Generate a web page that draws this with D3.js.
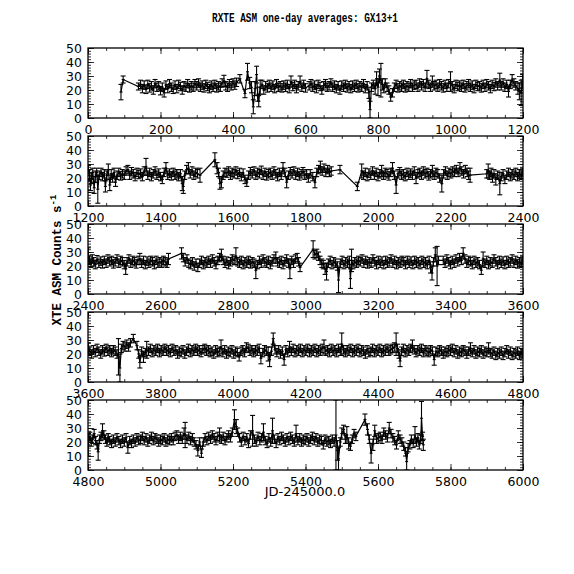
<!DOCTYPE html>
<html>
<head>
<meta charset="utf-8">
<script src="https://cdn.jsdelivr.net/npm/d3@7"></script>
<style>
  body { margin: 0; background: #fff; }
  svg { display: block; }
</style>
</head>
<body>
<div id="chart"></div>
<script>
WIDTH = 574;
HEIGHT = 574;

// ASM one-day averages: [JD-2450000, counts/s, error]
// error left out means the usual ~3 c/s
var panel1 = [
  [91,18.5,5.5],[97,27.5,2.5],
  [139,22.5,2.5],[145,24],[150,21],[155,23.5],[160,20.5],[165,24],[170,21.5],[175,23],[180,20],[185,24.5],[190,22],[195,23],[200,19.5],[205,22],[210,18],[215,23.5],[220,21],[225,24.5],[230,22],[235,20.5],[240,23.5],[245,21],[250,24],[255,22.5],[260,20],[265,23],[270,22],[275,24.5],[280,21.5],[285,23],[290,22],[295,24.5],[300,23],[305,25],[310,22],[315,23.5],[320,21.5],[325,24],[330,22.5],[335,21],[340,23.5],[345,22],[350,24],[355,21.5],[360,23],[365,22],[370,25],[375,26.5,4],[380,23],[385,22],[390,24.5],[395,23],[400,25],[405,23.5],[410,25.5],[419,28],[433,17.5],[440,33,6],[446,25,4],[451,22,4],[456,8,5],[461,21,5],[465,31,6],[468,17,5],[471,12,4],[475,22,5],
  [480,24],[485,20],[490,23],[495,21.5],[500,24],[505,22],[510,23.5],[515,21],[520,24.5],[525,22],[530,23],[535,21.5],[540,23.5],[545,22],[550,24],[555,21],[560,26,4],[565,22.5],[570,24],[575,21],[580,23],[585,26,4],[590,22],[595,24],[600,21.5],[610,23],[615,24.5],[620,22],[625,23.5],[630,21],[635,24],[640,22.5],[645,20],[650,23],[655,24.5],[660,22],[665,23],[670,25],[675,22],[680,23.5],[685,21],[690,23],[695,20],[700,23.5],[705,22],[710,24],[715,21.5],[720,23],[725,21],[730,23.5],[735,22],[740,24],[745,21.5],[750,23],[755,22],[760,24.5],[765,21],[770,23],[775,18,4],[778,6,6],[782,22],[787,24],[792,21,4],[796,28,5],[800,22,6],[804,30,5],[808,27,12],[812,24,4],[816,21],[820,25],[825,22],[830,20],[835,15],[840,18],
  [845,22],[850,24],[855,21.5],[860,23],[865,22],[870,24],[875,21.5],[880,23],[885,22],[890,24.5],[895,22],[900,23.5],[905,24],[910,22],[915,25],[920,23],[925,24.5],[930,22],[935,28,6],[940,24],[945,22],[950,26,4],[955,23],[960,24],[965,22],[970,24.5],[975,23],[980,21.5],[985,24],[990,22],[995,24.5],[1000,26,7],[1005,23],[1010,21],[1015,24],[1020,22.5],[1025,23.5],[1030,22],[1035,24],[1040,21.5],[1045,23],[1050,24.5],[1055,22],[1060,23.5],[1065,21],[1070,24],[1075,22.5],[1080,23],[1085,21.5],[1090,24],[1095,22],[1100,24.5],[1105,23],[1110,21],[1115,24],[1120,22.5],[1125,25],[1130,23],[1136,27,5],[1140,23],[1145,25],[1150,22],[1155,24],[1160,19,4],[1165,24],[1170,27,4],[1175,25],[1180,23],[1186,21,4],[1190,19,6],[1195,18,9],[1199,26,5]
];

var panel2 = [
  [1201,26],[1204,22,4],[1207,15,4],[1210,20,4],[1213,24],[1217,13,4],[1220,21,4],[1224,24],[1227,12,10],[1231,22],[1236,24],[1240,21],[1245,23],[1248,14,4],[1252,22],[1256,26,4],[1260,15,4],[1264,23],[1268,20],[1272,24],[1276,17],[1280,22],[1285,24],[1290,21.5],[1295,23],[1300,22],[1305,25],[1310,26],[1315,22],[1320,24.5],[1325,23],[1330,21],[1335,24],[1340,22.5],[1345,23.5],[1350,21],[1355,25],[1360,28,6],[1365,22],[1370,24],[1375,21],[1380,23],[1385,25],[1390,22],[1395,23.5],[1400,21],[1405,19],[1410,24],[1415,27,4],[1420,22],[1425,23.5],[1430,21.5],[1435,24],[1440,22],[1445,23],[1450,21],[1455,23],[1460,16,5],[1463,14,5],[1467,22],[1472,26],[1477,27,4],[1482,23],[1487,25],[1492,22],[1497,24],[1502,23],[1509,22,5],
  [1550,33,5],[1556,27,4],[1560,24],[1564,16,4],[1568,17,4],[1573,22],[1578,24],[1583,23.5],[1588,25],[1593,22],[1598,24],[1603,23],[1608,25],[1613,22.5],[1618,24],[1623,21],[1628,23.5],[1633,19],[1638,17],[1643,22],[1648,24.5],[1653,23],[1658,25],[1663,22],[1668,24],[1673,23],[1678,25.5],[1683,22],[1688,24],[1693,21.5],[1698,23],[1703,24],[1708,22],[1713,25],[1718,23],[1723,21],[1728,24],[1733,22],[1738,27,4],[1743,24],[1748,17,4],[1753,22],[1758,24.5],[1763,23],[1768,25],[1773,22],[1778,24],[1783,21.5],[1788,23],[1793,24.5],[1798,22],[1803,23],[1808,20],[1813,23],[1820,21],[1826,17,4],[1831,24],[1836,26],[1841,28,4],[1846,25],[1851,27],[1856,24],[1861,26],[1866,24],[1871,25],[1895,26],
  [1943,14],[1955,25,5],[1960,22],[1965,24],[1970,21],[1975,23.5],[1980,22],[1985,25],[1990,22],[1995,24],[2000,21],[2005,23],[2010,25,4],[2015,22],[2020,24],[2025,23],[2030,21.5],[2035,24],[2040,27,4],[2045,22],[2050,15,6],[2055,23],[2060,24.5],[2065,22],[2070,23],[2075,21],[2080,24],[2085,22],[2090,23.5],[2095,22],[2100,25],[2105,20,4],[2110,23],[2115,24],[2120,22],[2125,25],[2130,23],[2135,24],[2140,21.5],[2145,23],[2150,25,4],[2155,22],[2160,24],[2165,23],[2170,20],[2176,16,6],[2181,23],[2186,25],[2191,22],[2196,24],[2201,23],[2206,25],[2211,24],[2216,26],[2221,24],[2226,27,4],[2231,25],[2236,23],[2241,26],[2246,24],[2250,22],[2254,22,5],
  [2300,23],[2304,25,5],[2308,22],[2312,24],[2316,20],[2320,23],[2325,19,4],[2330,22],[2336,16,8],[2340,21],[2345,23],[2350,19],[2355,22],[2360,24],[2365,21],[2370,23],[2375,22],[2380,24],[2385,21],[2390,23],[2395,22],[2399,24]
];

var panel3 = [
  [2401,27,6],[2404,24],[2408,22],[2412,25],[2416,23],[2420,21],[2425,24.5],[2430,22],[2435,23.5],[2440,21.5],[2445,24],[2450,22],[2455,25],[2460,23],[2465,24],[2470,21.5],[2475,23],[2480,25],[2485,22],[2490,24],[2495,23],[2500,21],[2504,18,4],[2508,23],[2513,25],[2518,22],[2523,24],[2528,23],[2533,21.5],[2538,24],[2543,25,4],[2548,22],[2553,24],[2558,21],[2563,23.5],[2568,22],[2573,24],[2578,23],[2583,21],[2588,24],[2593,22],[2598,23],[2603,22],[2608,24],[2613,23],[2618,22],[2622,25,4],
  [2658,29,4],[2663,26],[2668,23],[2673,25],[2678,22],[2683,21],[2688,23],[2693,20],[2698,22],[2703,19],[2708,22],[2713,24],[2718,21],[2723,23],[2728,22],[2733,24],[2738,22],[2743,25],[2748,23],[2753,21],[2758,24],[2763,26],[2768,28,4],[2773,24],[2778,22],[2783,23.5],[2788,21],[2793,23],[2798,25],[2803,24],[2808,27,6],[2813,23],[2818,22],[2823,24],[2828,21],[2833,23],[2838,22],[2843,24],[2848,21.5],[2853,23],[2858,22],[2863,17,6],[2868,21],[2873,24],[2878,22],[2883,25],[2888,23],[2893,22],[2898,24],[2903,21],[2908,23],[2913,25],[2918,26,4],[2923,23],[2928,22],[2933,24],[2938,21],[2943,23],[2948,25],[2953,22],[2957,18,7],[2962,24],[2967,22],[2972,25],[2977,26],[2981,23],[2985,19],
  [3021,32,6],[3026,28],[3031,29],[3036,27],[3040,24],[3045,22],[3049,21],[3054,18,4],[3058,16,6],[3063,22],[3068,24],[3073,21],[3078,23],[3083,22],[3088,20],[3091,10,9],[3096,22],[3101,24],[3106,21],[3111,23],[3116,22],[3121,24],[3124,11,7],[3127,24,8],[3131,21],[3136,23],[3141,22],[3146,24],[3151,23],[3156,25],[3161,22],[3166,24],[3171,21.5],[3176,23],[3181,22],[3186,25],[3191,23],[3196,21],[3201,24],[3206,22],[3211,23.5],[3216,21],[3221,24],[3226,22],[3231,23],[3236,25],[3241,22],[3246,24],[3251,21],[3256,23],[3261,22],[3266,24],[3271,23],[3276,21],[3281,24],[3286,22],[3291,23.5],[3296,21],[3301,24],[3306,22],[3311,23],[3316,21],[3321,24],[3326,22],[3331,23],[3336,21],[3341,24],[3345,19,4],[3349,15,5],[3353,23],[3358,28,5],[3363,20,14],[3367,24],
  [3380,24],[3385,22],[3390,25],[3395,23],[3400,21],[3405,24],[3410,22],[3415,25],[3420,23],[3425,26],[3430,24],[3435,29,4],[3440,25],[3445,22],[3450,24],[3455,23],[3460,21],[3465,24],[3470,22],[3475,23],[3480,21],[3485,17],[3490,25,5],[3495,22],[3500,24],[3505,21],[3510,23],[3515,22],[3520,25],[3525,23],[3530,21],[3535,24],[3540,22],[3545,23.5],[3550,21],[3555,24],[3560,22],[3565,23],[3570,25],[3575,22],[3580,24],[3585,21.5],[3590,23],[3595,22],[3599,24]
];

var panel4 = [
  [3601,24,4],[3605,22],[3610,20],[3615,23],[3620,21],[3625,24],[3630,22],[3635,20],[3640,23],[3645,21.5],[3650,24],[3655,22],[3660,23],[3665,21],[3670,23],[3675,22],[3680,20],[3684,18,13],[3688,10,10],[3692,24],[3697,26],[3702,25],[3707,27],[3712,25],[3717,28],[3725,31],[3735,26],[3740,20],[3743,14,4],[3748,22],[3753,18,4],[3758,21],[3762,23,6],[3767,22],[3772,24],[3777,21],[3782,23],[3787,22],[3792,24],[3797,21],[3802,23],[3807,22],[3812,24],[3817,22],[3822,23],[3827,21],[3832,24],[3837,22],[3842,23],[3847,20],[3852,22],[3857,21],[3862,23],[3867,20],[3872,22],[3877,24],[3882,21],[3887,23],[3892,22],[3897,24],[3902,22],[3907,23],[3912,21],[3917,23],[3922,24],[3927,22],[3932,23],[3937,21],[3942,22],[3947,20],[3952,23],[3957,21],[3962,22],[3967,25,5],[3972,21],[3977,23],[3982,20],[3987,22],[3992,21],[3997,23],
  [4002,20],[4007,22],[4012,21],[4017,18],[4022,22],[4027,23],[4032,21],[4037,25],[4042,24],[4047,22],[4052,23],[4057,21],[4062,23],[4067,22],[4072,24],[4077,17,4],[4082,21],[4087,23],[4092,22],[4097,20,5],[4101,16,5],[4106,22],[4111,31,4],[4116,23],[4121,21],[4126,23],[4131,20],[4136,22],[4141,16,4],[4146,23],[4151,21],[4156,25,4],[4161,22],[4166,24],[4171,21],[4176,23],[4181,22],[4186,24],[4191,21],[4196,23],[4201,22],[4206,24],[4211,21],[4216,23],[4221,22],[4226,24],[4231,21],[4236,23],[4241,22],[4246,24],[4251,25,5],[4256,22],[4261,23],[4266,21],[4271,24],[4276,22],[4281,23],[4286,21],[4291,24],[4296,22],[4300,27,8],[4305,23],[4310,21],[4315,23],[4320,22],[4325,24],[4330,21],[4335,23],[4340,22],[4345,24],[4350,21],[4355,23],[4360,22],[4365,20],[4370,23],[4375,21],[4380,22],[4385,24],[4390,21],[4395,23],
  [4400,22],[4405,24],[4410,21],[4415,23],[4420,22],[4425,24],[4430,22],[4435,23],[4440,24],[4445,25],[4450,27,8],[4454,24],[4458,20],[4461,15,4],[4465,22],[4470,24],[4475,21],[4480,23],[4485,22],[4490,24],[4495,26,4],[4500,23],[4505,21],[4510,23],[4515,22],[4520,24],[4525,21],[4530,23],[4535,22],[4540,21],[4545,23],[4550,22],[4555,16,4],[4560,22],[4565,21],[4570,23],[4575,22],[4580,20],[4585,22],[4590,21],[4595,23],[4600,22],[4605,24],[4610,21],[4615,23],[4620,20],[4625,22],[4630,21],[4635,23],[4640,22],[4645,20],[4650,22],[4655,24,4],[4660,21],[4665,23],[4670,20],[4675,22],[4680,21],[4685,23],[4690,20],[4695,22],[4700,21],[4705,24,4],[4710,21],[4715,20],[4720,22],[4725,19],[4730,21],[4735,20],[4740,22],[4745,19],[4750,21],[4755,23],[4760,20],[4765,22],[4770,19],[4775,21],[4780,20],[4785,22],[4790,19],[4795,21],[4799,20]
];

var panel5 = [
  [4801,18,8],[4805,24],[4809,20],[4813,22],[4817,26],[4821,21],[4825,18],[4828,13,6],[4832,22],[4836,24],[4840,28,5],[4844,25],[4848,22],[4852,20],[4856,23],[4860,21],[4865,19],[4870,22],[4875,20],[4880,23],[4885,21],[4890,19],[4895,22],[4900,20],[4905,23],[4910,16,4],[4915,21],[4920,19],[4925,22],[4930,20],[4935,23],[4940,21],[4945,22],[4950,24],[4955,21],[4960,23],[4965,20],[4970,22],[4975,24],[4980,21],[4985,23],[4990,22],[4995,20],
  [5000,22],[5005,21],[5010,23],[5015,20],[5020,22],[5025,21],[5030,23],[5035,21],[5040,24],[5045,25],[5050,22],[5055,24],[5060,22],[5065,26,4],[5068,25,9],[5073,22],[5078,24],[5083,21],[5088,23],[5093,20],[5098,18],[5103,14,4],[5108,20],[5113,12],[5118,20],[5123,23],[5128,21],[5133,24],[5138,22],[5143,25],[5148,23],[5153,21],[5158,24],[5163,25,5],[5168,22],[5173,24],[5178,21],[5183,23],[5188,25],[5193,23],[5198,27],[5204,36,7],[5209,31,5],[5213,27],[5218,23],[5223,20],[5228,24],[5233,21],[5238,23],[5243,19],[5248,25],[5254,28,11],[5259,22],[5264,20],[5269,24],[5274,21],[5279,23],[5284,27,6],[5289,21],[5294,19],[5299,23],[5304,20],[5309,28,9],[5314,22],[5319,19],[5324,23],[5329,21],[5334,24],[5339,22],[5344,20],[5349,23],[5354,21],[5359,24],[5364,22],[5369,20],[5374,26,6],[5379,21],[5384,23],[5389,20],[5394,22],[5399,21],
  [5404,23],[5409,20],[5414,22],[5419,24],[5424,21],[5429,23],[5434,20],[5439,22],[5444,21],[5449,18],[5454,22],[5459,20],[5464,21],[5469,19],[5474,22],[5479,20],[5484,25,25],[5488,14,7],[5491,8,8],[5496,20],[5500,26,4],[5505,29],[5510,22],[5514,25,6],[5519,19,4],[5524,17],[5529,22],[5534,26],[5539,24],[5564,36,4],[5571,29,4],[5576,22],[5581,12,7],[5586,18,4],[5591,28,4],[5596,22],[5601,23],[5606,24],[5611,22],[5616,27],[5621,25],[5626,23],[5631,30,4],[5636,26],[5641,23],[5646,21],[5651,18],[5656,25],[5661,22],[5666,20],[5671,17],[5676,13],[5679,6,6],[5683,16],[5688,18],[5692,22],[5697,19],[5702,25,6],[5706,20],[5710,23],[5714,18],[5718,22],[5720,37,12],[5723,24],[5725,18,4]
];

var panels = [panel1, panel2, panel3, panel4, panel5];
var panelStarts = [0, 1200, 2400, 3600, 4800];
var yTicks = [0, 10, 20, 30, 40, 50];

var titleText = "RXTE ASM one-day averages: GX13+1";
var xLabel = "JD-245000.0";
var yLabel = "XTE ASM Counts s";

var margin = { left: 88, right: 51, top: 48 };
var panelH = 70;
var panelGap = 88;
var innerW = WIDTH - margin.left - margin.right;

var svg = d3.select("#chart").append("svg")
  .attr("width", WIDTH)
  .attr("height", HEIGHT);

var tickFont = "'DejaVu Sans', sans-serif";

panels.forEach(function(data, i) {
  var start = panelStarts[i];
  var top = margin.top + i * panelGap;

  var x = d3.scaleLinear().domain([start, start + 1200]).range([0, innerW]);
  var y = d3.scaleLinear().domain([0, 50]).range([panelH, 0]);

  var g = svg.append("g").attr("transform", "translate(" + margin.left + "," + top + ")");

  g.append("clipPath").attr("id", "clip" + i)
    .append("rect").attr("width", innerW).attr("height", panelH);

  var plot = g.append("g").attr("clip-path", "url(#clip" + i + ")");

  var err = function(d) { return d.length > 2 ? d[2] : 3; };

  // connecting line
  var line = d3.line().x(d => x(d[0])).y(d => y(d[1]));
  plot.append("path")
    .datum(data)
    .attr("d", line)
    .attr("fill", "none")
    .attr("stroke", "#000")
    .attr("stroke-width", 1.2);

  // error bars with caps
  var bars = plot.selectAll("g.eb").data(data).enter().append("g").attr("class", "eb")
    .attr("stroke", "#000").attr("stroke-width", 1.1);
  bars.append("line")
    .attr("x1", d => x(d[0])).attr("x2", d => x(d[0]))
    .attr("y1", d => y(d[1] - err(d))).attr("y2", d => y(d[1] + err(d)));
  bars.append("line")
    .attr("x1", d => x(d[0]) - 2.5).attr("x2", d => x(d[0]) + 2.5)
    .attr("y1", d => y(d[1] + err(d))).attr("y2", d => y(d[1] + err(d)));
  bars.append("line")
    .attr("x1", d => x(d[0]) - 2.5).attr("x2", d => x(d[0]) + 2.5)
    .attr("y1", d => y(d[1] - err(d))).attr("y2", d => y(d[1] - err(d)));
  bars.append("line")
    .attr("x1", d => x(d[0]) - 1.5).attr("x2", d => x(d[0]) + 1.5)
    .attr("y1", d => y(d[1])).attr("y2", d => y(d[1]));

  // axes: ticks point inward, like the old pgplot frames
  var majorX = d3.range(start, start + 1201, 200);
  var minorX = d3.range(start, start + 1201, 50);
  var minorY = d3.range(0, 51, 2);

  var bottomMinor = g.append("g").attr("transform", "translate(0," + panelH + ")")
    .call(d3.axisBottom(x).tickValues(minorX).tickSize(-3).tickSizeOuter(0).tickFormat(""));
  var topMinor = g.append("g")
    .call(d3.axisTop(x).tickValues(minorX).tickSize(-3).tickSizeOuter(0).tickFormat(""));
  var bottomAxis = g.append("g").attr("transform", "translate(0," + panelH + ")")
    .call(d3.axisBottom(x).tickValues(majorX).tickSize(-6).tickSizeOuter(0).tickPadding(7).tickFormat(d3.format("d")));
  var topAxis = g.append("g")
    .call(d3.axisTop(x).tickValues(majorX).tickSize(-6).tickSizeOuter(0).tickFormat(""));

  var leftMinor = g.append("g")
    .call(d3.axisLeft(y).tickValues(minorY).tickSize(-3).tickSizeOuter(0).tickFormat(""));
  var rightMinor = g.append("g").attr("transform", "translate(" + innerW + ",0)")
    .call(d3.axisRight(y).tickValues(minorY).tickSize(-3).tickSizeOuter(0).tickFormat(""));
  var leftAxis = g.append("g")
    .call(d3.axisLeft(y).tickValues(yTicks).tickSize(-6).tickSizeOuter(0).tickPadding(6).tickFormat(d3.format("d")));
  var rightAxis = g.append("g").attr("transform", "translate(" + innerW + ",0)")
    .call(d3.axisRight(y).tickValues(yTicks).tickSize(-6).tickSizeOuter(0).tickFormat(""));

  [bottomMinor, topMinor, bottomAxis, topAxis, leftMinor, rightMinor, leftAxis, rightAxis].forEach(function(a) {
    a.select(".domain").remove();
    a.selectAll("line").attr("stroke", "#000").attr("stroke-width", 0.8);
    a.selectAll("text")
      .style("font-family", tickFont)
      .style("font-size", "12.5px")
      .attr("fill", "#000");
  });

  g.append("rect")
    .attr("width", innerW)
    .attr("height", panelH)
    .attr("fill", "none")
    .attr("stroke", "#000")
    .attr("stroke-width", 1.3);
});

svg.append("text")
  .attr("x", 305)
  .attr("y", 22)
  .attr("text-anchor", "middle")
  .style("font-family", "'Liberation Mono', monospace")
  .style("font-size", "13.5px")
  .style("font-weight", "bold")
  .attr("textLength", 186)
  .attr("lengthAdjust", "spacingAndGlyphs")
  .text(titleText);

svg.append("text")
  .attr("x", 305)
  .attr("y", 496)
  .attr("text-anchor", "middle")
  .style("font-family", tickFont)
  .style("font-size", "13px")
  .text(xLabel);

var yl = svg.append("text")
  .attr("transform", "translate(61,260) rotate(-90)")
  .attr("text-anchor", "middle")
  .style("font-family", "'Liberation Mono', monospace")
  .style("font-size", "12.5px")
  .style("font-weight", "bold");
yl.append("tspan").text(yLabel);
yl.append("tspan").attr("dy", -5).style("font-size", "9px").text("-1");
</script>
</body>
</html>
